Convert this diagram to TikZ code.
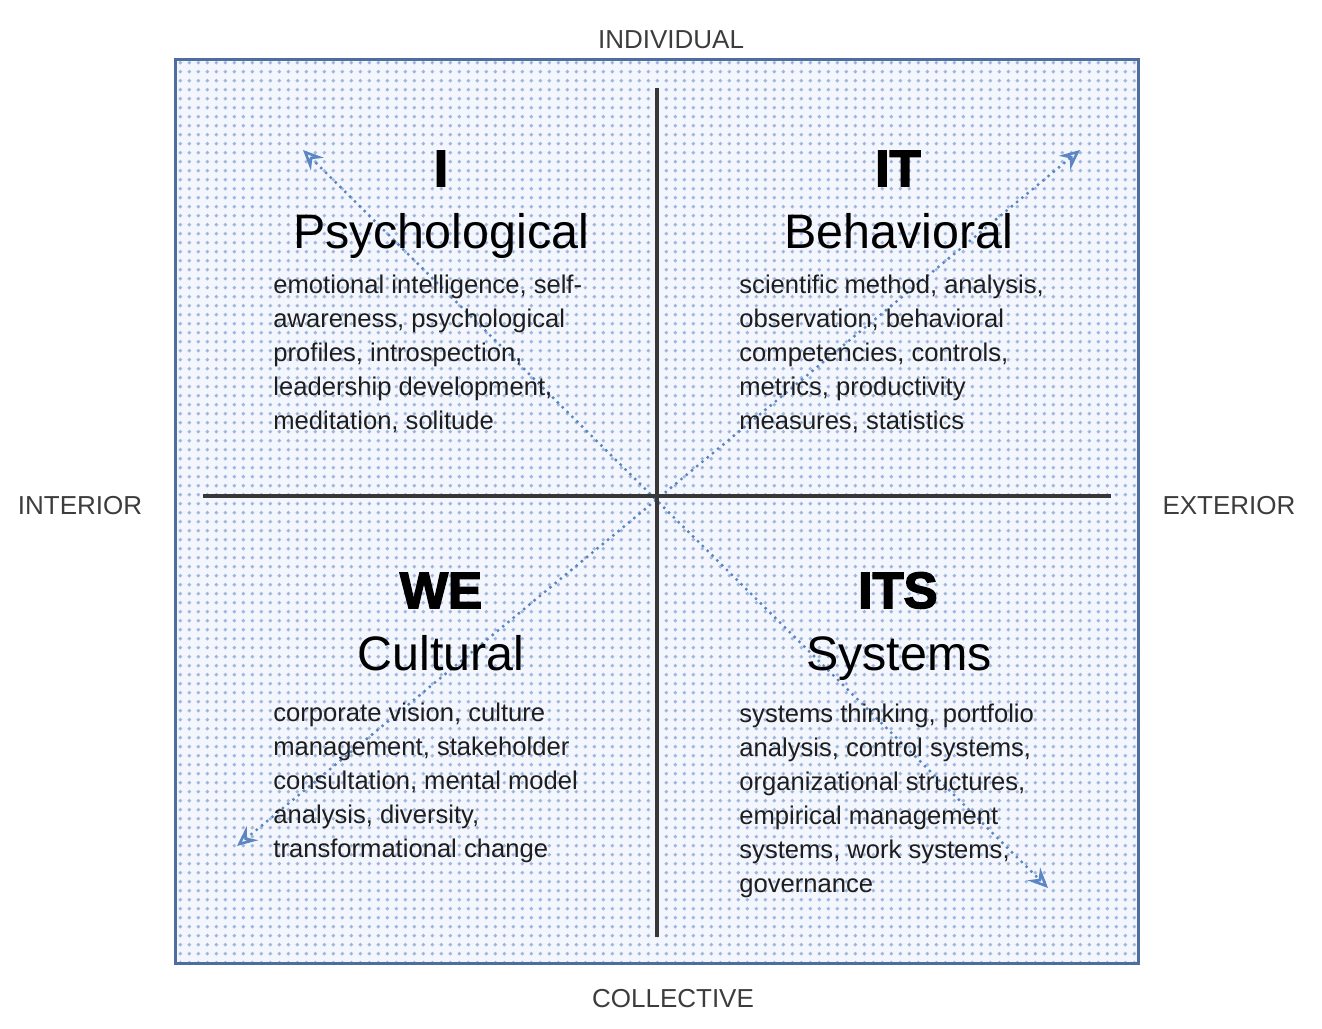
\documentclass[tikz,border=0pt]{standalone}
\usepackage{fontspec}
\setmainfont{Liberation Sans}
\newfontfamily\heavyfont[FakeBold=3]{Liberation Sans Bold}
\usetikzlibrary{arrows.meta,patterns.meta}
\definecolor{boxblue}{RGB}{79,110,160}
\definecolor{dotblue}{RGB}{160,182,222}
\definecolor{tintblue}{RGB}{243,246,252}
\definecolor{arrblue}{RGB}{91,134,194}
\definecolor{axisgray}{RGB}{55,55,55}
\definecolor{labgray}{RGB}{60,60,60}
\definecolor{txtgray}{RGB}{30,30,30}
\tikzdeclarepattern{
  name=bluedots,
  type=uncolored,
  bounding box={(0pt,0pt) and (4.4pt,4.4pt)},
  tile size={(4.4pt,4.4pt)},
  code={\pgfpathcircle{\pgfpoint{2.2pt}{2.2pt}}{1.0pt}\pgfusepath{fill}}
}
\tikzset{
  axislabel/.style={inner sep=0pt, anchor=base, text=labgray, font=\fontsize{13}{15}\selectfont},
  quadword/.style={inner sep=0pt, anchor=base, text=black, font=\heavyfont\fontsize{25.5}{28}\selectfont},
  quadtitle/.style={inner sep=0pt, anchor=base, text=black, font=\fontsize{24.2}{28}\selectfont},
  quadbody/.style={inner sep=0pt, anchor=north west, align=left, text=txtgray, font=\fontsize{12.8}{17}\selectfont},
  axisline/.style={draw=axisgray, line width=2pt},
  diagarrow/.style={draw=arrblue, line width=1.7pt, line cap=round, dash pattern=on 0pt off 3.4pt,
    {Stealth[open,length=10pt,width=9pt,inset=3.5pt,line width=1.3pt]}-{Stealth[open,length=10pt,width=9pt,inset=3.5pt,line width=1.3pt]}}
}
\begin{document}
\begin{tikzpicture}[x=0.5pt,y=-0.5pt]
\useasboundingbox (0,0) rectangle (1322,1028);
% background box
\fill[tintblue] (175,59) rectangle (1138,963);
\fill[pattern=bluedots, pattern color=dotblue] (175,59) rectangle (1138,963);
\draw[boxblue, line width=1.5pt] (175,59) rectangle (1138,963);
% coordinates
\coordinate (top) at (657,88);
\coordinate (bot) at (657,937);
\coordinate (lft) at (203,496);
\coordinate (rgt) at (1111,496);
\coordinate (ul) at (303,150);
\coordinate (lr) at (1048,888);
\coordinate (ur) at (1080,150);
\coordinate (ll) at (237,846);
% dotted diagonal arrows
\draw[diagarrow] (ul) -- (lr);
\draw[diagarrow] (ll) -- (ur);
% axes
\draw[axisline] (top) -- (bot);
\draw[axisline] (lft) -- (rgt);
% axis labels
\node[axislabel] (individual) at (671,48) {INDIVIDUAL};
\node[axislabel] (collective) at (673,1007) {COLLECTIVE};
\node[axislabel] (interior) at (80,514) {INTERIOR};
\node[axislabel] (exterior) at (1229,514) {EXTERIOR};
% quadrant I
\node[quadword] (iw) at (441,186) {I};
\node[quadtitle] (it1) at (441,248) {Psychological};
\node[quadbody] (ib) at (273,275) {emotional intelligence, self-\\awareness, psychological\\profiles, introspection,\\leadership development,\\meditation, solitude};
% quadrant IT
\node[quadword] (itw) at (898,186) {IT};
\node[quadtitle] (itt) at (899,248) {Behavioral};
\node[quadbody] (itb) at (739,275) {scientific method, analysis,\\observation, behavioral\\competencies, controls,\\metrics, productivity\\measures, statistics};
% quadrant WE
\node[quadword] (wew) at (441,608) {WE};
\node[quadtitle] (wet) at (441,670) {Cultural};
\node[quadbody] (web) at (273,703) {corporate vision, culture\\management, stakeholder\\consultation, mental model\\analysis, diversity,\\transformational change};
% quadrant ITS
\node[quadword] (itsw) at (898,608) {ITS};
\node[quadtitle] (itst) at (899,670) {Systems};
\node[quadbody] (itsb) at (739,704) {systems thinking, portfolio\\analysis, control systems,\\organizational structures,\\empirical management\\systems, work systems,\\governance};
\end{tikzpicture}
\end{document}
